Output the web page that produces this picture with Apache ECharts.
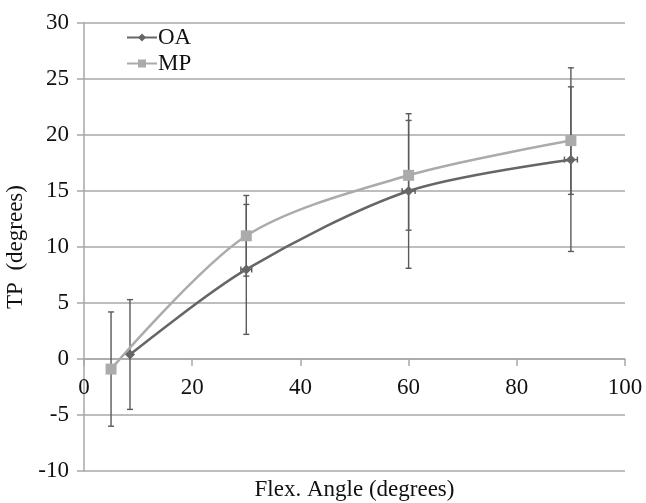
<!DOCTYPE html>
<html>
<head>
<meta charset="utf-8">
<script src="https://cdn.jsdelivr.net/npm/echarts@6/dist/echarts.min.js"></script>
<style>html,body{margin:0;padding:0;background:#fff}#c{width:646px;height:503px}</style>
</head>
<body>
<div id="c"></div>
<script>
const angleOA = [8.5, 30, 60, 90];
const tpOA = [0.4, 8.0, 15.0, 17.8];
const sdOA = [4.9, 5.8, 6.9, 8.2];
const xErrOA = [0, 1.0, 1.2, 1.2];
const angleMP = [5, 30, 60, 90];
const tpMP = [-0.9, 11.0, 16.4, 19.5];
const sdMP = [5.1, 3.6, 4.9, 4.8];
const seriesNames = ['OA', 'MP'];
const xTicks = [0, 20, 40, 60, 80, 100];
const yTicks = [-10, -5, 0, 5, 10, 15, 20, 25, 30];

const FONT = '"Liberation Serif", "DejaVu Serif", serif';
const FS = 23;
const errColor = '#5a5a5a';
const GRID_TOP = 23, GRID_BOTTOM = 32, H = 503;

function errData(xs, ys, sds, xes) {
  return xs.map((x, i) => [x, ys[i], sds[i], xes ? xes[i] : 0]);
}

function renderErr(params, api) {
  const x = api.value(0), y = api.value(1), sd = api.value(2), xe = api.value(3);
  const top = api.coord([x, y + sd]);
  const bot = api.coord([x, y - sd]);
  const cap = 3;
  const style = { stroke: errColor, lineWidth: 1.4 };
  const children = [
    { type: 'line', shape: { x1: top[0], y1: top[1], x2: bot[0], y2: bot[1] }, style },
    { type: 'line', shape: { x1: top[0] - cap, y1: top[1], x2: top[0] + cap, y2: top[1] }, style },
    { type: 'line', shape: { x1: bot[0] - cap, y1: bot[1], x2: bot[0] + cap, y2: bot[1] }, style }
  ];
  if (xe > 0) {
    const l = api.coord([x - xe, y]);
    const r = api.coord([x + xe, y]);
    children.push(
      { type: 'line', shape: { x1: l[0], y1: l[1], x2: r[0], y2: r[1] }, style },
      { type: 'line', shape: { x1: l[0], y1: l[1] - cap, x2: l[0], y2: l[1] + cap }, style },
      { type: 'line', shape: { x1: r[0], y1: r[1] - cap, x2: r[0], y2: r[1] + cap }, style }
    );
  }
  return { type: 'group', children };
}

// place the x axis at y = 0 by offsetting it from the grid bottom
const yMin = yTicks[0], yMax = yTicks[yTicks.length - 1];
const plotH = H - GRID_TOP - GRID_BOTTOM;
const zeroOffset = -plotH * (0 - yMin) / (yMax - yMin);

const chart = echarts.init(document.getElementById('c'), null, { renderer: 'canvas' });
chart.setOption({
  animation: false,
  backgroundColor: '#fff',
  textStyle: { fontFamily: FONT },
  grid: { left: 84, right: 21, top: GRID_TOP, bottom: GRID_BOTTOM, containLabel: false, outerBoundsMode: 'none' },
  legend: {
    data: seriesNames,
    orient: 'vertical',
    left: 121,
    top: 21,
    itemWidth: 30,
    itemHeight: 10,
    itemGap: 3,
    textStyle: { fontFamily: FONT, fontSize: FS, color: '#111', padding: [0, 0, 0, -4] }
  },
  xAxis: {
    type: 'value',
    min: xTicks[0],
    max: xTicks[xTicks.length - 1],
    interval: 20,
    offset: zeroOffset,
    name: 'Flex. Angle (degrees)',
    nameLocation: 'middle',
    nameGap: 119,
    nameTextStyle: { fontFamily: FONT, fontSize: FS, color: '#111' },
    axisLine: { onZero: false, lineStyle: { color: '#a8a8a8', width: 1.5 } },
    axisTick: { show: true, length: 7, lineStyle: { color: '#a8a8a8', width: 1.5 } },
    axisLabel: { fontFamily: FONT, fontSize: FS, color: '#111', margin: 17 },
    splitLine: { show: false }
  },
  yAxis: {
    type: 'value',
    min: yMin,
    max: yMax,
    interval: 5,
    name: 'TP  (degrees)',
    nameLocation: 'middle',
    nameGap: 56,
    nameTextStyle: { fontFamily: FONT, fontSize: FS, color: '#111' },
    axisLine: { show: true, lineStyle: { color: '#a8a8a8', width: 1.5 } },
    axisTick: { show: true, length: 7, lineStyle: { color: '#a8a8a8', width: 1.5 } },
    axisLabel: { fontFamily: FONT, fontSize: FS, color: '#111', margin: 15 },
    splitLine: { show: true, lineStyle: { color: '#a8a8a8', width: 1.5 } }
  },
  series: [
    {
      type: 'custom',
      name: 'errOA',
      renderItem: renderErr,
      data: errData(angleOA, tpOA, sdOA, xErrOA),
      encode: { x: 0, y: 1 },
      z: 1,
      silent: true
    },
    {
      type: 'custom',
      name: 'errMP',
      renderItem: renderErr,
      data: errData(angleMP, tpMP, sdMP, null),
      encode: { x: 0, y: 1 },
      z: 1,
      silent: true
    },
    {
      name: 'MP',
      type: 'line',
      smooth: 0.3,
      data: angleMP.map((x, i) => [x, tpMP[i]]),
      symbol: 'rect',
      symbolSize: 11,
      lineStyle: { color: '#ababab', width: 2.5 },
      itemStyle: { color: '#ababab' },
      z: 3
    },
    {
      name: 'OA',
      type: 'line',
      smooth: 0.3,
      data: angleOA.map((x, i) => [x, tpOA[i]]),
      symbol: 'diamond',
      symbolSize: 10,
      lineStyle: { color: '#666666', width: 2.5 },
      itemStyle: { color: '#666666' },
      z: 4
    }
  ]
});
</script>
</body>
</html>
